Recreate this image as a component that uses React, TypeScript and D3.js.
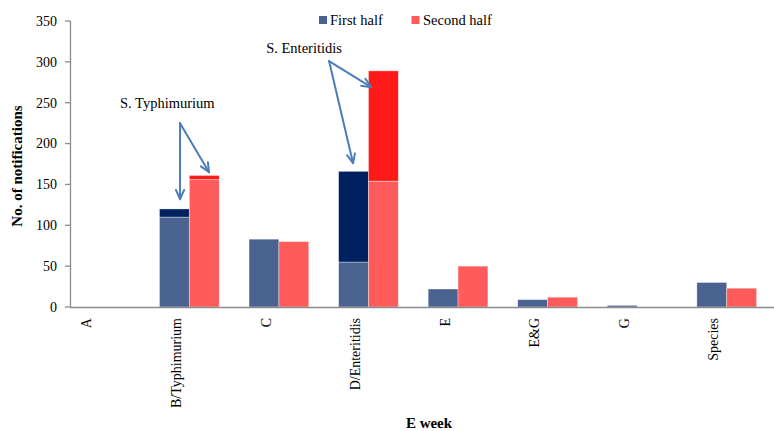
import React from "react";
import * as d3 from "d3";

const categories = ["A", "B/Typhimurium", "C", "D/Enteritidis", "E", "E&G", "G", "Species"];
const firstHalf = [0, 110, 83, 55, 22, 9, 2, 30];
const firstHalfSerovar = [0, 10, 0, 111, 0, 0, 0, 0];
const secondHalf = [0, 156, 80, 154, 50, 12, 0, 23];
const secondHalfSerovar = [0, 5, 0, 135, 0, 0, 0, 0];
const yTicks = [0, 50, 100, 150, 200, 250, 300, 350];
const seriesNames = ["First half", "Second half"];

const W = 774;
const H = 431;
const FONT = "Liberation Serif, Times New Roman, Times, serif";
const C_FIRST = "#4A6290";
const C_FIRST_DARK = "#002060";
const C_SECOND = "#FF5B5B";
const C_SECOND_DARK = "#FF1A1A";
const AXIS = "#8C8C8C";
const ARROW = "#4A7EBB";

export default function App() {
  const x = d3.scaleBand<string>().domain(categories).range([55, 771.5]).padding(0);
  const y = d3.scaleLinear().domain([0, 350]).range([307, 21]);
  const bw = x.bandwidth() / 3;
  const cx = (c: string) => (x(c) as number) + x.bandwidth() / 2;

  const arrowHead = (x1: number, y1: number, x2: number, y2: number) => {
    const a = Math.atan2(y2 - y1, x2 - x1);
    const L = 10;
    const s = 0.42;
    const p1 = [x2 - L * Math.cos(a - s), y2 - L * Math.sin(a - s)];
    const p2 = [x2 - L * Math.cos(a + s), y2 - L * Math.sin(a + s)];
    return `M${p1[0]},${p1[1]}L${x2},${y2}L${p2[0]},${p2[1]}`;
  };

  const annotations = [
    {
      label: "S. Typhimurium",
      cat: "B/Typhimurium",
      tx: -22, ty: 243,
      ox: -9.3, oy: 225,
      tips: [[-9.3, 132], [19.7, 165]],
    },
    {
      label: "S. Enteritidis",
      cat: "D/Enteritidis",
      tx: -64.4, ty: 311,
      ox: -39.4, oy: 301,
      tips: [[-15.4, 176], [2.6, 269]],
    },
  ];

  return (
    <svg width={W} height={H} style={{ position: "absolute", left: 0, top: 0, background: "#fff", fontFamily: FONT }}>
      {/* bars */}
      {categories.map((c, i) => {
        const xl = cx(c) - bw;
        const xr = cx(c);
        const segs = [
          { x: xl, y0: 0, y1: firstHalf[i], col: C_FIRST },
          { x: xl, y0: firstHalf[i], y1: firstHalf[i] + firstHalfSerovar[i], col: C_FIRST_DARK },
          { x: xr, y0: 0, y1: secondHalf[i], col: C_SECOND },
          { x: xr, y0: secondHalf[i], y1: secondHalf[i] + secondHalfSerovar[i], col: C_SECOND_DARK },
        ];
        return (
          <g key={c}>
            {segs.filter((s) => s.y1 > s.y0).map((s, j) => (
              <rect key={j} x={s.x} y={y(s.y1)} width={bw} height={y(s.y0) - y(s.y1)} fill={s.col}
                stroke="rgba(255,255,255,0.45)" strokeWidth={0.8} />
            ))}
          </g>
        );
      })}

      {/* y axis */}
      <line x1={70.5} x2={70.5} y1={y(350)} y2={y(0)} stroke={AXIS} strokeWidth={1.3} />
      {yTicks.map((t) => (
        <g key={t}>
          <line x1={65} x2={70.5} y1={y(t)} y2={y(t)} stroke={AXIS} strokeWidth={1.3} />
          <text x={57} y={y(t)} dy="0.35em" textAnchor="end" fontSize={14} fill="#000">{t}</text>
        </g>
      ))}
      {/* x axis */}
      <line x1={70} x2={774} y1={y(0) + 0.5} y2={y(0) + 0.5} stroke={AXIS} strokeWidth={1.5} />
      {categories.map((c) => (
        <text key={c} transform={`translate(${cx(c) - 13},318) rotate(-90)`} textAnchor="end" dy="0.33em"
          fontSize={14} fill="#000">{c}</text>
      ))}

      {/* axis titles */}
      <text transform={`translate(22,${(y(0) + y(350)) / 2 + 2}) rotate(-90)`} textAnchor="middle"
        fontSize={15} fontWeight="bold" fill="#000">No. of notifications</text>
      <text x={429} y={428} textAnchor="middle" fontSize={15} fontWeight="bold" fill="#000">E week</text>

      {/* legend */}
      <rect x={319} y={16} width={8} height={8} fill={C_FIRST} />
      <text x={330} y={25} fontSize={14.5} fill="#000">{seriesNames[0]}</text>
      <rect x={411.5} y={16} width={8} height={8} fill={C_SECOND} />
      <text x={423} y={25} fontSize={14.5} fill="#000">{seriesNames[1]}</text>

      {/* annotations */}
      {annotations.map((a) => {
        const c = cx(a.cat);
        const ox = c + a.ox;
        const oy = y(a.oy);
        return (
          <g key={a.label}>
            <text x={c + a.tx} y={y(a.ty)} textAnchor="middle" fontSize={14.5} fill="#000">{a.label}</text>
            {a.tips.map((t, k) => {
              const tx = c + t[0];
              const ty = y(t[1]);
              return (
                <g key={k} stroke={ARROW} strokeWidth={2} fill="none" strokeLinecap="round" strokeLinejoin="round">
                  <line x1={ox} y1={oy} x2={tx} y2={ty} />
                  <path d={arrowHead(ox, oy, tx, ty)} />
                </g>
              );
            })}
          </g>
        );
      })}
    </svg>
  );
}
